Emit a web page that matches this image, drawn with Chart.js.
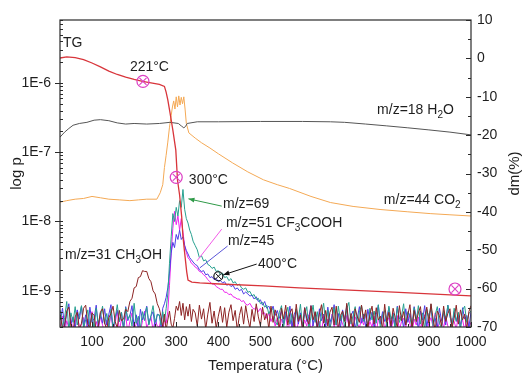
<!DOCTYPE html>
<html>
<head>
<meta charset="utf-8">
<script src="https://cdn.jsdelivr.net/npm/chart.js@4.4.1/dist/chart.umd.min.js"></script>
<style>
  html, body { margin: 0; padding: 0; background: #fff; }
  canvas { display: block; }
</style>
</head>
<body>
<canvas id="tgms" width="528" height="374"></canvas>
<script>
// TG curve (right axis, dm %)
const tgTemp = [24, 40, 60, 80, 100, 120, 140, 160, 180, 200, 220, 240, 260, 272, 276, 280, 285, 292, 299, 303, 308, 313, 316, 320, 325, 328, 337, 356, 403, 507, 592, 711, 829, 1000];
const tgDm = [0.1, 0.4, 0.2, -0.3, -1.2, -2.2, -3.3, -4.2, -4.9, -5.5, -6.0, -6.4, -6.8, -7.3, -8.8, -10.8, -14.0, -18.7, -23.9, -31.7, -35.6, -41.3, -46.5, -50.7, -55.7, -57.8, -58.3, -58.5, -58.8, -59.3, -59.8, -60.4, -61.0, -61.9];

// m/z=18 H2O (left axis, log p)
const h2oTemp = [24, 35, 45, 55, 70, 88, 105, 120, 140, 160, 180, 200, 230, 260, 285, 305, 312, 318, 322, 326, 350, 400, 500, 600, 666, 700, 750, 800, 850, 900, 950, 1000];
const h2oP = [1.65e-7, 1.95e-7, 2.2e-7, 2.45e-7, 2.6e-7, 2.7e-7, 2.9e-7, 2.95e-7, 2.85e-7, 2.65e-7, 2.55e-7, 2.6e-7, 2.55e-7, 2.6e-7, 2.7e-7, 2.6e-7, 2.4e-7, 2.25e-7, 2.35e-7, 2.6e-7, 2.75e-7, 2.75e-7, 2.78e-7, 2.78e-7, 2.75e-7, 2.7e-7, 2.55e-7, 2.4e-7, 2.25e-7, 2.1e-7, 1.95e-7, 1.78e-7];

// m/z=44 CO2
const co2Temp = [24, 40, 60, 80, 100, 120, 140, 166, 190, 210, 230, 254, 262, 268, 272, 276, 280, 284, 288, 291, 294, 297, 300, 303, 306, 309, 312, 315, 318, 321, 324, 330, 345, 360, 380, 400, 434, 470, 507, 540, 569, 620, 666, 720, 784, 850, 903, 950, 1000];
const co2P = [1.9e-8, 2.0e-8, 2.1e-8, 2.15e-8, 2.3e-8, 2.2e-8, 2.1e-8, 2.05e-8, 2.0e-8, 2.05e-8,
  2.1e-8, 2.1e-8, 2.6e-8, 3.4e-8, 6e-8, 9e-8, 1.4e-7, 2.3e-7, 3.4e-7, 4.5e-7,
  5.5e-7, 4.2e-7, 6.3e-7, 4.5e-7, 6.5e-7, 4.8e-7, 6.2e-7, 5.0e-7, 6.3e-7, 4.2e-7,
  2.6e-7, 1.9e-7, 1.6e-7, 1.37e-7, 1.15e-7, 9.5e-8, 7.0e-8, 5.2e-8, 4.0e-8, 3.4e-8,
  3.0e-8, 2.3e-8, 1.88e-8, 1.65e-8, 1.49e-8, 1.38e-8, 1.3e-8, 1.25e-8, 1.2e-8];

// shared temperature grid of the noisy MS traces
const msTemp = [25, 30, 35, 40, 45, 50, 55, 60, 65, 70, 75, 80, 85, 90, 95, 100, 105, 110, 115, 120,
  125, 130, 135, 140, 145, 150, 155, 160, 165, 170, 175, 180, 185, 190, 195, 200, 205, 210, 215, 220,
  225, 230, 235, 240, 245, 250, 255,
  260, 264, 268, 272, 276, 280, 284, 288, 292, 296, 300, 304, 308, 312, 316, 320, 324, 328, 332, 336, 340,
  345, 350, 355, 360, 365, 370, 375, 380, 385, 390, 395, 400, 405, 410, 415, 420, 425, 430, 435, 440,
  445, 450, 455, 460, 465, 470, 475, 480, 485, 490, 495, 500, 505, 510, 515, 520, 525, 530, 535, 540,
  545, 550, 555, 560, 565, 570, 575, 580, 585, 590, 595, 600, 605, 610, 615, 620, 625, 630, 635, 640,
  645, 650, 655, 660, 665, 670, 675, 680, 685, 690, 695, 700, 705, 710, 715, 720, 725, 730, 735, 740,
  745, 750, 755, 760, 765, 770, 775, 780, 785, 790, 795, 800, 805, 810, 815, 820, 825, 830, 835, 840,
  845, 850, 855, 860, 865, 870, 875, 880, 885, 890, 895, 900, 905, 910, 915, 920, 925, 930, 935, 940,
  945, 950, 955, 960, 965, 970, 975, 980, 985, 990, 995, 1000];

// MS ion currents on msTemp, in units of 1E-10
const MS_UNIT = 1e-10;

// m/z=31 CH3OH
const ms31 = [4.5, 2.7, 3.2, 5.1, 5.8, 3.0, 2.6, 4.2, 4.9, 2.8, 3.4, 5.6, 6.2, 3.3, 2.9, 4.8, 4.4, 2.6, 3.1, 5.0,
  5.5, 3.4, 2.8, 4.1, 4.7, 6.0, 3.6, 2.9, 5.2, 3.7, 3.9, 5.4,
  5.0, 7.0, 7.8, 11, 11.5, 15.5, 16, 19.5, 19, 19, 15, 13.5, 10, 9, 6.5,
  5.5, 4.2, 3.0, 4.6, 2.7, 3.8, 5.1, 3.3, 2.9, 4.0, 6.0, 5.2, 7.0, 4.4, 6.6, 3.8, 5.9, 4.3, 6.4, 3.6, 5.4,
  4.8, 3.1, 6.2, 3.9, 5.5, 2.8, 4.6, 6.8, 3.4, 5.1, 2.9, 4.3, 6.0, 3.5, 5.7, 3.0, 4.9, 6.3, 3.7, 5.2,
  2.7, 4.4, 5.9, 3.3, 6.1, 4.0, 2.9, 5.4, 3.6, 6.5, 4.2, 3.1, 5.8, 3.8, 4.7, 2.8, 6.0, 3.5, 5.3, 4.1,
  2.9, 5.6, 3.9, 6.2, 3.2, 4.8, 5.5, 3.0, 6.4, 3.6, 4.5, 2.8, 5.7, 4.0, 3.3, 6.1, 3.8, 5.0, 2.9, 4.6,
  6.3, 3.4, 5.2, 3.1, 4.9, 5.8, 3.2, 6.0, 2.8, 4.4, 5.1, 3.6, 6.6, 3.0, 4.7, 2.7, 5.5, 4.2, 3.5, 6.2,
  3.9, 5.3, 2.9, 4.6, 6.0, 3.3, 5.7, 3.8, 4.3, 2.8, 6.4, 3.5, 4.9, 3.1, 5.6, 4.1, 2.9, 6.1, 3.7, 5.0,
  3.2, 4.5, 6.3, 2.8, 5.2, 3.6, 4.8, 5.9, 3.0, 4.2, 5.8, 3.4, 6.5, 3.9, 2.7, 5.1, 4.4, 3.1, 6.0, 3.6,
  4.7, 5.5, 2.9, 4.0, 6.2, 3.3, 5.3, 3.8, 4.6, 2.8, 5.0, 6.1];

// m/z=69
const ms69 = [5.2, 3.0, 4.1, 7.0, 2.7, 4.8, 3.5, 5.9, 3.2, 4.4, 6.1, 2.9, 3.8, 5.3, 3.1, 4.6, 2.8, 5.6, 3.4, 4.2,
  6.0, 3.3, 4.7, 3.0, 5.4, 2.8, 4.0, 6.3, 3.6, 4.9, 2.7, 5.7, 3.9, 4.5, 3.1, 6.6, 3.4, 4.3, 2.9, 5.0,
  3.7, 5.8, 3.2, 4.4, 6.1, 3.5, 4.5,
  4.5, 3.2, 5.0, 3.6, 5.5, 9, 25, 60, 130, 100, 160, 120, 200, 160, 290, 150, 110, 95, 75, 65, 52,
  45, 39, 30, 32, 27, 28, 24, 23, 21, 22, 19, 19.5, 17, 18, 15.5, 16, 14, 15, 13, 13.5,
  12, 12.5, 11, 10.5, 11, 9.5, 9.8, 8.5, 8.8, 7.5, 7.8, 6.5, 6.8, 5.8, 6.2, 4.6, 5.6, 5.4, 3.6, 3.2,
  4.9, 6.1, 3.0, 4.4, 5.8, 3.3, 4.7, 2.8, 5.5, 3.9, 6.4, 3.1, 4.5, 5.9, 2.9, 4.2, 6.2, 3.5, 5.0, 3.0,
  4.6, 6.6, 3.4, 5.3, 2.8, 4.1, 5.7, 3.2, 6.0, 3.7, 4.8, 2.9, 5.5, 6.8, 3.3, 4.4, 5.9, 3.1, 4.9, 6.2,
  3.6, 4.7, 2.9, 5.6, 3.8, 5.1, 3.4, 6.3, 2.8, 4.5, 5.2, 3.0, 6.0, 3.9, 4.6, 2.7, 5.8, 3.5, 4.3, 6.5,
  3.2, 5.0, 4.1, 2.9, 5.7, 3.6, 6.1, 3.3, 4.8, 2.8, 5.4, 4.0, 6.4, 3.1, 4.5, 5.9, 3.4, 2.9, 5.2, 3.8,
  6.2, 4.4, 3.0, 5.6, 3.7, 4.9, 2.8, 5.3, 6.0, 3.5, 4.7, 5.1];

// m/z=51 CF3COOH
const ms51 = [3.1, 4.3, 2.5, 3.7, 2.9, 4.0, 2.6, 3.5, 5.2, 2.7, 3.3, 4.1, 2.4, 3.9, 3.0, 5.0, 2.6, 3.6, 2.8, 4.2,
  3.2, 2.5, 3.8, 2.9, 4.6, 2.7, 3.4, 5.3, 2.6, 3.9, 3.0, 4.4, 2.5, 3.6, 4.8, 2.8, 3.3, 4.0, 2.6, 3.7,
  5.1, 2.9, 3.5, 4.2, 2.7, 3.8, 3.1,
  3.0, 4.0, 2.6, 3.8, 3.4, 5.0, 12, 35, 80, 140, 90, 120, 75, 110, 70, 45, 36, 30, 28, 25, 24,
  22, 21, 19, 18.5, 17, 16, 14.5, 13.5, 12.5, 12.5, 11.5, 11, 10.5, 10.5, 9.5, 9.5, 8.8, 9.0, 8.2, 8.0,
  7.6, 7.6, 7.0, 7.2, 6.4, 6.2, 6.6, 5.8, 5.4, 5.8, 5.0, 5.6, 4.6, 4.8, 4.0, 4.8, 3.6, 4.3, 3.1, 4.1,
  2.7, 3.9, 3.2, 4.6, 2.6, 3.7, 3.0, 4.2, 2.5, 3.5, 4.4, 2.8, 3.8, 3.1, 4.5, 2.6, 3.4, 4.0, 2.9, 3.6,
  2.5, 4.3, 3.2, 3.9, 2.7, 4.6, 3.0, 3.7, 2.6, 4.1, 3.3, 2.8, 4.4, 3.1, 3.8, 2.6, 4.2, 3.4, 2.9, 4.0,
  3.2, 4.5, 2.7, 3.6, 3.0, 4.3, 2.5, 3.9, 3.3, 4.7, 2.8, 3.5, 4.1, 2.6, 3.8, 3.1, 4.4, 2.7, 3.6, 4.0,
  2.9, 4.6, 3.3, 2.5, 3.9, 3.2, 4.2, 2.8, 3.7, 4.5, 2.6, 3.4, 4.1, 3.0, 4.8, 2.7, 3.5, 3.9, 2.9, 4.3,
  3.1, 2.6, 4.0, 3.6, 2.8, 4.4, 3.3, 3.8, 2.7, 4.2, 3.0, 3.5];

// m/z=45
const ms45 = [3.8, 5.6, 3.0, 4.7, 6.5, 3.3, 4.2, 2.8, 5.3, 3.9, 6.0, 3.1, 4.5, 2.7, 5.8, 3.5, 4.0, 6.2, 2.9, 4.8,
  3.4, 5.5, 3.2, 4.6, 6.3, 2.8, 4.1, 5.2, 3.6, 4.9, 2.9, 5.9, 3.7, 4.4, 6.1, 3.0, 4.5, 2.7, 5.4, 3.8,
  4.6, 6.0, 3.3, 4.3, 5.0, 2.9, 4.6,
  4.4, 3.0, 5.6, 6.5, 8.0, 11, 18, 35, 50, 42, 65, 55, 75, 55, 60, 45, 38, 34, 30, 28, 26,
  24, 23, 20, 19, 19.5, 17, 17.5, 15.5, 16, 14.5, 15, 13.5, 14, 13, 13.5, 12, 12.5, 11.5, 12, 10.5,
  11, 10, 10.5, 9.0, 9.6, 9.0, 8.4, 8.6, 7.6, 8.2, 7.0, 7.4, 6.2, 7.0, 5.6, 6.0, 5.0, 6.0, 4.4, 5.2,
  4.0, 5.2, 3.4, 5.0, 3.8, 6.0, 3.0, 4.5, 5.4, 3.3, 4.8, 2.9, 5.7, 3.6, 4.2, 6.1, 3.1, 4.9, 2.8, 5.5,
  3.7, 4.6, 3.0, 5.8, 3.5, 4.3, 6.3, 3.2, 4.7, 2.9, 5.3, 3.9, 6.0, 3.1, 4.4, 5.1, 2.8, 4.0, 5.9, 3.4,
  4.6, 3.0, 5.4, 3.7, 4.9, 2.9, 4.5, 6.2, 3.3, 5.0, 3.6, 4.1, 5.7, 2.8, 4.8, 3.2, 6.0, 3.9, 4.4, 2.9,
  5.5, 3.5, 4.7, 3.1, 5.9, 4.2, 2.8, 5.1, 3.8, 6.1, 3.0, 4.6, 5.3, 3.4, 4.0, 2.9, 5.6, 3.7, 4.8, 3.2,
  6.2, 4.3, 3.1, 5.0, 3.6, 4.5, 2.8, 5.7, 3.9, 4.4, 3.0, 4.9];

// circled points on the TG curve and the 400 °C point on the MS traces
const markTemp = [221, 300, 962];
const markDm = [-6.0, -31.0, -60.1];
const probeTemp = [400];
const probeP = [1.62e-9];

// axis ticks
const xTicks = [100, 200, 300, 400, 500, 600, 700, 800, 900, 1000];
const pTicks = [1e-9, 1e-8, 1e-7, 1e-6];
const pTickLabels = ['1E-9', '1E-8', '1E-7', '1E-6'];
const dmTicks = [-70, -60, -50, -40, -30, -20, -10, 0, 10];

const FONT = "'Liberation Sans', Arial, sans-serif";
const INK = '#1e1e1e';
const MAG = '#dc3fc4';

const pts = (xs, ys) => xs.map((t, i) => ({ x: t, y: ys[i] }));
const msPts = vals => pts(msTemp, vals.map(v => v * MS_UNIT));

// text notes, anchored (left, baseline) at [temperature, dm]
const notes = [
  { at: [31, 3.0], parts: ['TG'] },
  { at: [190, -3.3], parts: ['221°C'] },
  { at: [330, -32.7], parts: ['300°C'] },
  { at: [777, -14.5], parts: ['m/z=18 H', { sub: '2' }, 'O'] },
  { at: [793, -37.9], parts: ['m/z=44 CO', { sub: '2' }] },
  { at: [411, -39.0], parts: ['m/z=69'] },
  { at: [418, -43.9], parts: ['m/z=51 CF', { sub: '3' }, 'COOH'] },
  { at: [423, -48.6], parts: ['m/z=45'] },
  { at: [494, -54.6], parts: ['400°C'] },
  { at: [36, -52.3], parts: ['m/z=31 CH', { sub: '3' }, 'OH'] }
];

const pointers = [
  { from: [408, -38.5], to: [329, -36.6], color: '#2f9a48', head: true },
  { from: [408, -44.5], to: [349, -52.8], color: '#f25ae8', head: false },
  { from: [422, -48.9], to: [356, -54.6], color: '#5a55d8', head: false },
  { from: [491, -53.6], to: [412, -56.4], color: '#111', head: true }
];

function drawRich(ctx, parts, x, y, size) {
  for (const part of parts) {
    const sub = typeof part !== 'string';
    const str = sub ? part.sub : part;
    ctx.font = `${sub ? Math.round(size * 0.68) : size}px ${FONT}`;
    ctx.fillText(str, x, sub ? y + size * 0.28 : y);
    x += ctx.measureText(str).width;
  }
}

const annotations = {
  id: 'annotations',
  afterDatasetsDraw(chart) {
    const { ctx, scales: { x, y2 } } = chart;
    const px = p => [x.getPixelForValue(p[0]), y2.getPixelForValue(p[1])];
    ctx.save();
    for (const p of pointers) {
      const [x0, y0] = px(p.from);
      const [x1, y1] = px(p.to);
      ctx.strokeStyle = p.color;
      ctx.fillStyle = p.color;
      ctx.lineWidth = 1;
      ctx.beginPath();
      ctx.moveTo(x0, y0);
      ctx.lineTo(x1, y1);
      ctx.stroke();
      if (p.head) {
        const a = Math.atan2(y1 - y0, x1 - x0);
        ctx.beginPath();
        ctx.moveTo(x1, y1);
        ctx.lineTo(x1 - 6 * Math.cos(a) + 2.5 * Math.sin(a), y1 - 6 * Math.sin(a) - 2.5 * Math.cos(a));
        ctx.lineTo(x1 - 6 * Math.cos(a) - 2.5 * Math.sin(a), y1 - 6 * Math.sin(a) + 2.5 * Math.cos(a));
        ctx.closePath();
        ctx.fill();
      }
    }
    ctx.fillStyle = INK;
    ctx.textAlign = 'left';
    ctx.textBaseline = 'alphabetic';
    for (const n of notes) {
      const [tx, ty] = px(n.at);
      drawRich(ctx, n.parts, tx, ty, 14);
    }
    ctx.restore();
  }
};

// plot frame, tick marks and axis titles
const frame = {
  id: 'frame',
  afterDraw(chart) {
    const { ctx, chartArea: a, scales: { x, y, y2 } } = chart;
    ctx.save();
    ctx.strokeStyle = '#2a2a2a';
    ctx.lineWidth = 1;
    ctx.beginPath();
    for (let t = 50; t <= 1000; t += 50) {
      const tx = Math.round(x.getPixelForValue(t)) + 0.5;
      ctx.moveTo(tx, a.bottom);
      ctx.lineTo(tx, a.bottom - (t % 100 === 0 ? 5 : 3));
    }
    for (let e = -10; e <= -6; e++) {
      for (let k = 1; k <= 9; k++) {
        const v = k * Math.pow(10, e);
        if (v < y.min || v > y.max) continue;
        const ty = Math.round(y.getPixelForValue(v)) + 0.5;
        ctx.moveTo(k === 1 ? a.left - 5 : a.left, ty);
        ctx.lineTo(a.left + 3, ty);
      }
    }
    for (let d = -70; d <= 10; d += 5) {
      const ty = Math.round(y2.getPixelForValue(d)) + 0.5;
      ctx.moveTo(a.right, ty);
      ctx.lineTo(a.right - (d % 10 === 0 ? 5 : 3), ty);
    }
    ctx.stroke();
    ctx.lineWidth = 1.2;
    ctx.strokeRect(a.left, a.top, a.right - a.left, a.bottom - a.top);

    ctx.fillStyle = INK;
    ctx.font = `15px ${FONT}`;
    ctx.textAlign = 'center';
    ctx.textBaseline = 'middle';
    ctx.fillText('Temperatura (°C)', (a.left + a.right) / 2, a.bottom + 39);
    const midY = (a.top + a.bottom) / 2;
    ctx.translate(17, midY);
    ctx.rotate(-Math.PI / 2);
    ctx.fillText('log p', 0, 0);
    ctx.setTransform(1, 0, 0, 1, 0, 0);
    ctx.translate(chart.width - 13, midY);
    ctx.rotate(-Math.PI / 2);
    ctx.fillText('dm(%)', 0, 0);
    ctx.restore();
  }
};

const tickFont = { family: FONT, size: 14 };

new Chart(document.getElementById('tgms'), {
  type: 'line',
  data: {
    datasets: [
      { data: pts(markTemp, markDm), yAxisID: 'y2', showLine: false, pointStyle: 'circle', pointRadius: 6,
        pointBorderColor: MAG, pointBackgroundColor: 'rgba(0,0,0,0)', pointBorderWidth: 1.2 },
      { data: pts(markTemp, markDm), yAxisID: 'y2', showLine: false, pointStyle: 'crossRot', pointRadius: 5,
        pointBorderColor: MAG, pointBorderWidth: 1.1 },
      { data: pts(probeTemp, probeP), yAxisID: 'y', showLine: false, pointStyle: 'circle', pointRadius: 4.5,
        pointBorderColor: '#111', pointBackgroundColor: 'rgba(0,0,0,0)', pointBorderWidth: 1.2 },
      { data: pts(probeTemp, probeP), yAxisID: 'y', showLine: false, pointStyle: 'crossRot', pointRadius: 4,
        pointBorderColor: '#111', pointBorderWidth: 1 },
      { label: 'TG', data: pts(tgTemp, tgDm), yAxisID: 'y2', borderColor: '#d8353b', borderWidth: 1.3 },
      { label: 'm/z=18', data: pts(h2oTemp, h2oP), yAxisID: 'y', borderColor: '#555', borderWidth: 1 },
      { label: 'm/z=44', data: pts(co2Temp, co2P), yAxisID: 'y', borderColor: '#f4a955', borderWidth: 1 },
      { label: 'm/z=31', data: msPts(ms31), yAxisID: 'y', borderColor: '#8c2323', borderWidth: 1 },
      { label: 'm/z=69', data: msPts(ms69), yAxisID: 'y', borderColor: '#27a08f', borderWidth: 1 },
      { label: 'm/z=45', data: msPts(ms45), yAxisID: 'y', borderColor: '#4d3be6', borderWidth: 1 },
      { label: 'm/z=51', data: msPts(ms51), yAxisID: 'y', borderColor: '#ee22ee', borderWidth: 1 }
    ]
  },
  options: {
    responsive: false,
    animation: false,
    layout: { padding: { top: 20, left: 0, right: 0, bottom: 0 } },
    plugins: { legend: { display: false }, tooltip: { enabled: false } },
    elements: { point: { radius: 0 }, line: { tension: 0 } },
    scales: {
      x: {
        type: 'linear', min: 24, max: 1000,
        afterBuildTicks: s => { s.ticks = xTicks.map(v => ({ value: v })); },
        afterFit: s => { s.height = 47; },
        grid: { display: false, drawTicks: false },
        border: { display: false },
        ticks: { font: tickFont, color: INK, padding: 7, maxRotation: 0, autoSkip: false, callback: v => String(v) }
      },
      y: {
        type: 'logarithmic', position: 'left', min: 3e-10, max: 8.1e-6,
        afterBuildTicks: s => { s.ticks = pTicks.map(v => ({ value: v })); },
        afterFit: s => { s.width = 60; },
        grid: { display: false, drawTicks: false },
        border: { display: false },
        ticks: { font: tickFont, color: INK, padding: 9, autoSkip: false, callback: (v, i) => pTickLabels[i] }
      },
      y2: {
        type: 'linear', position: 'right', min: -70, max: 10,
        afterBuildTicks: s => { s.ticks = dmTicks.map(v => ({ value: v })); },
        afterFit: s => { s.width = 57; },
        grid: { display: false, drawTicks: false },
        border: { display: false },
        ticks: { font: tickFont, color: INK, padding: 6, autoSkip: false, callback: v => String(v) }
      }
    }
  },
  plugins: [annotations, frame]
});
</script>
</body>
</html>
